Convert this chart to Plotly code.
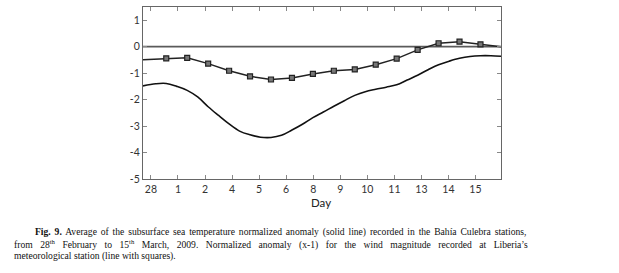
import glob
import re
import struct
import plotly.graph_objects as go

# ---- data ----
tick_labels = ["28", "1", "2", "4", "5", "6", "8", "9", "10", "11", "13", "14", "15"]
tick_pos = [-0.73, 0.56, 1.85, 3.14, 4.43, 5.72, 7.02, 8.31, 9.60, 10.89, 12.18, 13.47, 14.76]

x_range = [-1.11, 15.98]

# wind anomaly (x-1), daily squares
wind_days = list(range(16))
wind_vals = [-0.44, -0.42, -0.64, -0.91, -1.12, -1.24, -1.18, -1.03,
             -0.91, -0.86, -0.68, -0.45, -0.12, 0.13, 0.19, 0.09]
wind_start = -0.49
wind_end = 0.0

# subsurface sea temperature normalized anomaly (solid line)
sst_x = [-1.11, -0.5, 0, 0.5, 1, 1.5, 2, 2.5, 3, 3.5, 4, 4.5, 5, 5.5, 6, 6.5, 7,
         7.5, 8, 8.5, 9, 9.5, 10, 10.5, 11, 11.5, 12, 12.5, 13, 13.5, 14, 14.5,
         15, 15.5, 15.98]
sst_vals = [-1.48, -1.40, -1.39, -1.50, -1.65, -1.90, -2.27, -2.60, -2.92, -3.19,
            -3.33, -3.42, -3.43, -3.35, -3.15, -2.93, -2.68, -2.47, -2.25, -2.04,
            -1.84, -1.70, -1.61, -1.53, -1.44, -1.26, -1.08, -0.87, -0.68, -0.55,
            -0.44, -0.37, -0.34, -0.34, -0.36]

y_ticks = [1, 0, -1, -2, -3, -4, -5]
x_title = "Day"

caption_line1 = ["<b>Fig.</b>", "<b>9.</b>", "Average", "of", "the", "subsurface", "sea", "temperature",
                 "normalized", "anomaly", "(solid", "line)", "recorded", "in", "the", "Bahía",
                 "Culebra", "stations,"]
caption_line2 = ["from", "28<sup>th</sup>", "February", "to", "15<sup>th</sup>", "March,", "2009.",
                 "Normalized", "anomaly", "(x-1)", "for", "the", "wind", "magnitude", "recorded",
                 "at", "Liberia’s"]
caption_line3 = ["meteorological", "station", "(line", "with", "squares)."]

# ---- layout constants ----
W, H = 619, 273
L, R, T, B = 143, 117.5, 7.3, 94
plot_w = W - L - R
plot_h = H - T - B
CAP_SIZE = 9.6


# ---- tiny TTF advance-width reader for justification ----
def load_metrics(path):
    try:
        data = open(path, "rb").read()
        num = struct.unpack(">H", data[4:6])[0]
        tables = {}
        for i in range(num):
            rec = data[12 + 16 * i: 28 + 16 * i]
            tables[rec[:4].decode("latin-1")] = struct.unpack(">I", rec[8:12])[0]
        upm = struct.unpack(">H", data[tables["head"] + 18: tables["head"] + 20])[0]
        nhm = struct.unpack(">H", data[tables["hhea"] + 34: tables["hhea"] + 36])[0]
        hm = tables["hmtx"]
        adv = [struct.unpack(">H", data[hm + 4 * i: hm + 4 * i + 2])[0] for i in range(nhm)]
        cm = tables["cmap"]
        ncm = struct.unpack(">H", data[cm + 2: cm + 4])[0]
        sub = None
        for i in range(ncm):
            pid, eid, off = struct.unpack(">HHI", data[cm + 4 + 8 * i: cm + 12 + 8 * i])
            if pid == 3 and eid == 1:
                sub = cm + off
        segx2 = struct.unpack(">H", data[sub + 6: sub + 8])[0]
        seg = segx2 // 2
        ends = struct.unpack(">%dH" % seg, data[sub + 14: sub + 14 + segx2])
        st = sub + 16 + segx2
        starts = struct.unpack(">%dH" % seg, data[st: st + segx2])
        deltas = struct.unpack(">%dh" % seg, data[st + segx2: st + 2 * segx2])
        ro_pos = st + 2 * segx2
        ros = struct.unpack(">%dH" % seg, data[ro_pos: ro_pos + segx2])
    except Exception:
        return None

    def gid(c):
        for k in range(seg):
            if ends[k] >= c:
                if starts[k] > c:
                    return 0
                if ros[k] == 0:
                    return (c + deltas[k]) & 0xFFFF
                addr = ro_pos + 2 * k + ros[k] + 2 * (c - starts[k])
                g = struct.unpack(">H", data[addr: addr + 2])[0]
                return (g + deltas[k]) & 0xFFFF if g else 0
        return 0

    def width(s, size):
        tot = 0
        for ch in s:
            g = gid(ord(ch))
            tot += adv[g] if g < len(adv) else adv[-1]
        return tot * size / upm
    return width


def find_font(name):
    hits = glob.glob("/usr/share/fonts/**/" + name, recursive=True)
    return hits[0] if hits else None


reg = find_font("LiberationSerif-Regular.ttf")
bold = find_font("LiberationSerif-Bold.ttf")
w_reg = load_metrics(reg) if reg else None
w_bold = load_metrics(bold) if bold else None
if w_reg is None:
    w_reg = lambda s, size: len(s) * 0.45 * size
if w_bold is None:
    w_bold = w_reg


def word_width(word, size):
    tot = 0
    for part in re.split(r"(<b>.*?</b>|<sup>.*?</sup>)", word):
        if not part:
            continue
        if part.startswith("<b>"):
            tot += w_bold(part[3:-4], size)
        elif part.startswith("<sup>"):
            tot += w_reg(part[5:-6], size * 0.7)
        else:
            tot += w_reg(part, size)
    return tot


def px_x(px):
    return (px - L) / plot_w


def px_y(py):
    return (H - B - py) / plot_h


def place_line(fig, words, x_left, x_right, y_mid, justify=True):
    natural = sum(word_width(w, CAP_SIZE) for w in words) + w_reg(" ", CAP_SIZE) * (len(words) - 1)
    extra = (x_right - x_left - natural) / (len(words) - 1) if justify else 0.0
    text = " ".join(words)
    if justify:
        text = '<span style="word-spacing:%.2fpx">%s</span>' % (extra, text)
    fig.add_annotation(text=text, xref="paper", yref="paper",
                       x=px_x(x_left), y=px_y(y_mid),
                       xanchor="left", yanchor="middle", showarrow=False,
                       borderpad=0, borderwidth=0,
                       font=dict(family="Liberation Serif", size=CAP_SIZE, color="#111111"))


fig = go.Figure()

# zero reference line
fig.add_trace(go.Scatter(
    x=x_range, y=[0, 0], mode="lines",
    line=dict(color="#5a5a5a", width=1.8),
    hoverinfo="skip", showlegend=False, cliponaxis=False))

fig.add_trace(go.Scatter(
    x=sst_x, y=sst_vals, mode="lines",
    line=dict(color="#111111", width=1.6, shape="spline", smoothing=1.0),
    hoverinfo="skip", showlegend=False))

fig.add_trace(go.Scatter(
    x=[x_range[0]] + wind_days + [x_range[1]],
    y=[wind_start] + wind_vals + [wind_end],
    mode="lines", line=dict(color="#222222", width=1.5),
    hoverinfo="skip", showlegend=False))

fig.add_trace(go.Scatter(
    x=wind_days, y=wind_vals, mode="markers",
    marker=dict(symbol="square", size=5, color="#777777",
                line=dict(color="#222222", width=1.2)),
    hoverinfo="skip", showlegend=False))

axis_common = dict(showline=True, linecolor="#666666", linewidth=1.2, mirror="allticks",
                   ticks="inside", ticklen=4, tickcolor="#888888", tickwidth=1,
                   showgrid=False, zeroline=False, automargin=False,
                   tickfont=dict(family="Lato", size=10.5, color="#333333"))

fig.update_xaxes(range=x_range, tickmode="array", tickvals=tick_pos, ticktext=tick_labels,
                 **axis_common)
fig.update_yaxes(range=[-5, 1.5], tickmode="array", tickvals=y_ticks,
                 ticktext=[str(v) for v in y_ticks], **axis_common)

fig.add_annotation(text=x_title, xref="paper", yref="paper", x=px_x(321.7), y=px_y(202.5),
                   xanchor="center", yanchor="middle", showarrow=False,
                   borderpad=0, borderwidth=0,
                   font=dict(family="Lato", size=11.5, color="#222222"))

place_line(fig, caption_line1, 35, 528, 231.7)
place_line(fig, caption_line2, 13.5, 528, 244.0)
place_line(fig, caption_line3, 13.5, 528, 256.0, justify=False)

fig.update_layout(width=W, height=H, margin=dict(l=L, r=R, t=T, b=B, autoexpand=False),
                  paper_bgcolor="white", plot_bgcolor="white", template="simple_white")

fig.write_html("out.html", config={"displayModeBar": False},
               post_script="document.body.style.margin='0px';")
